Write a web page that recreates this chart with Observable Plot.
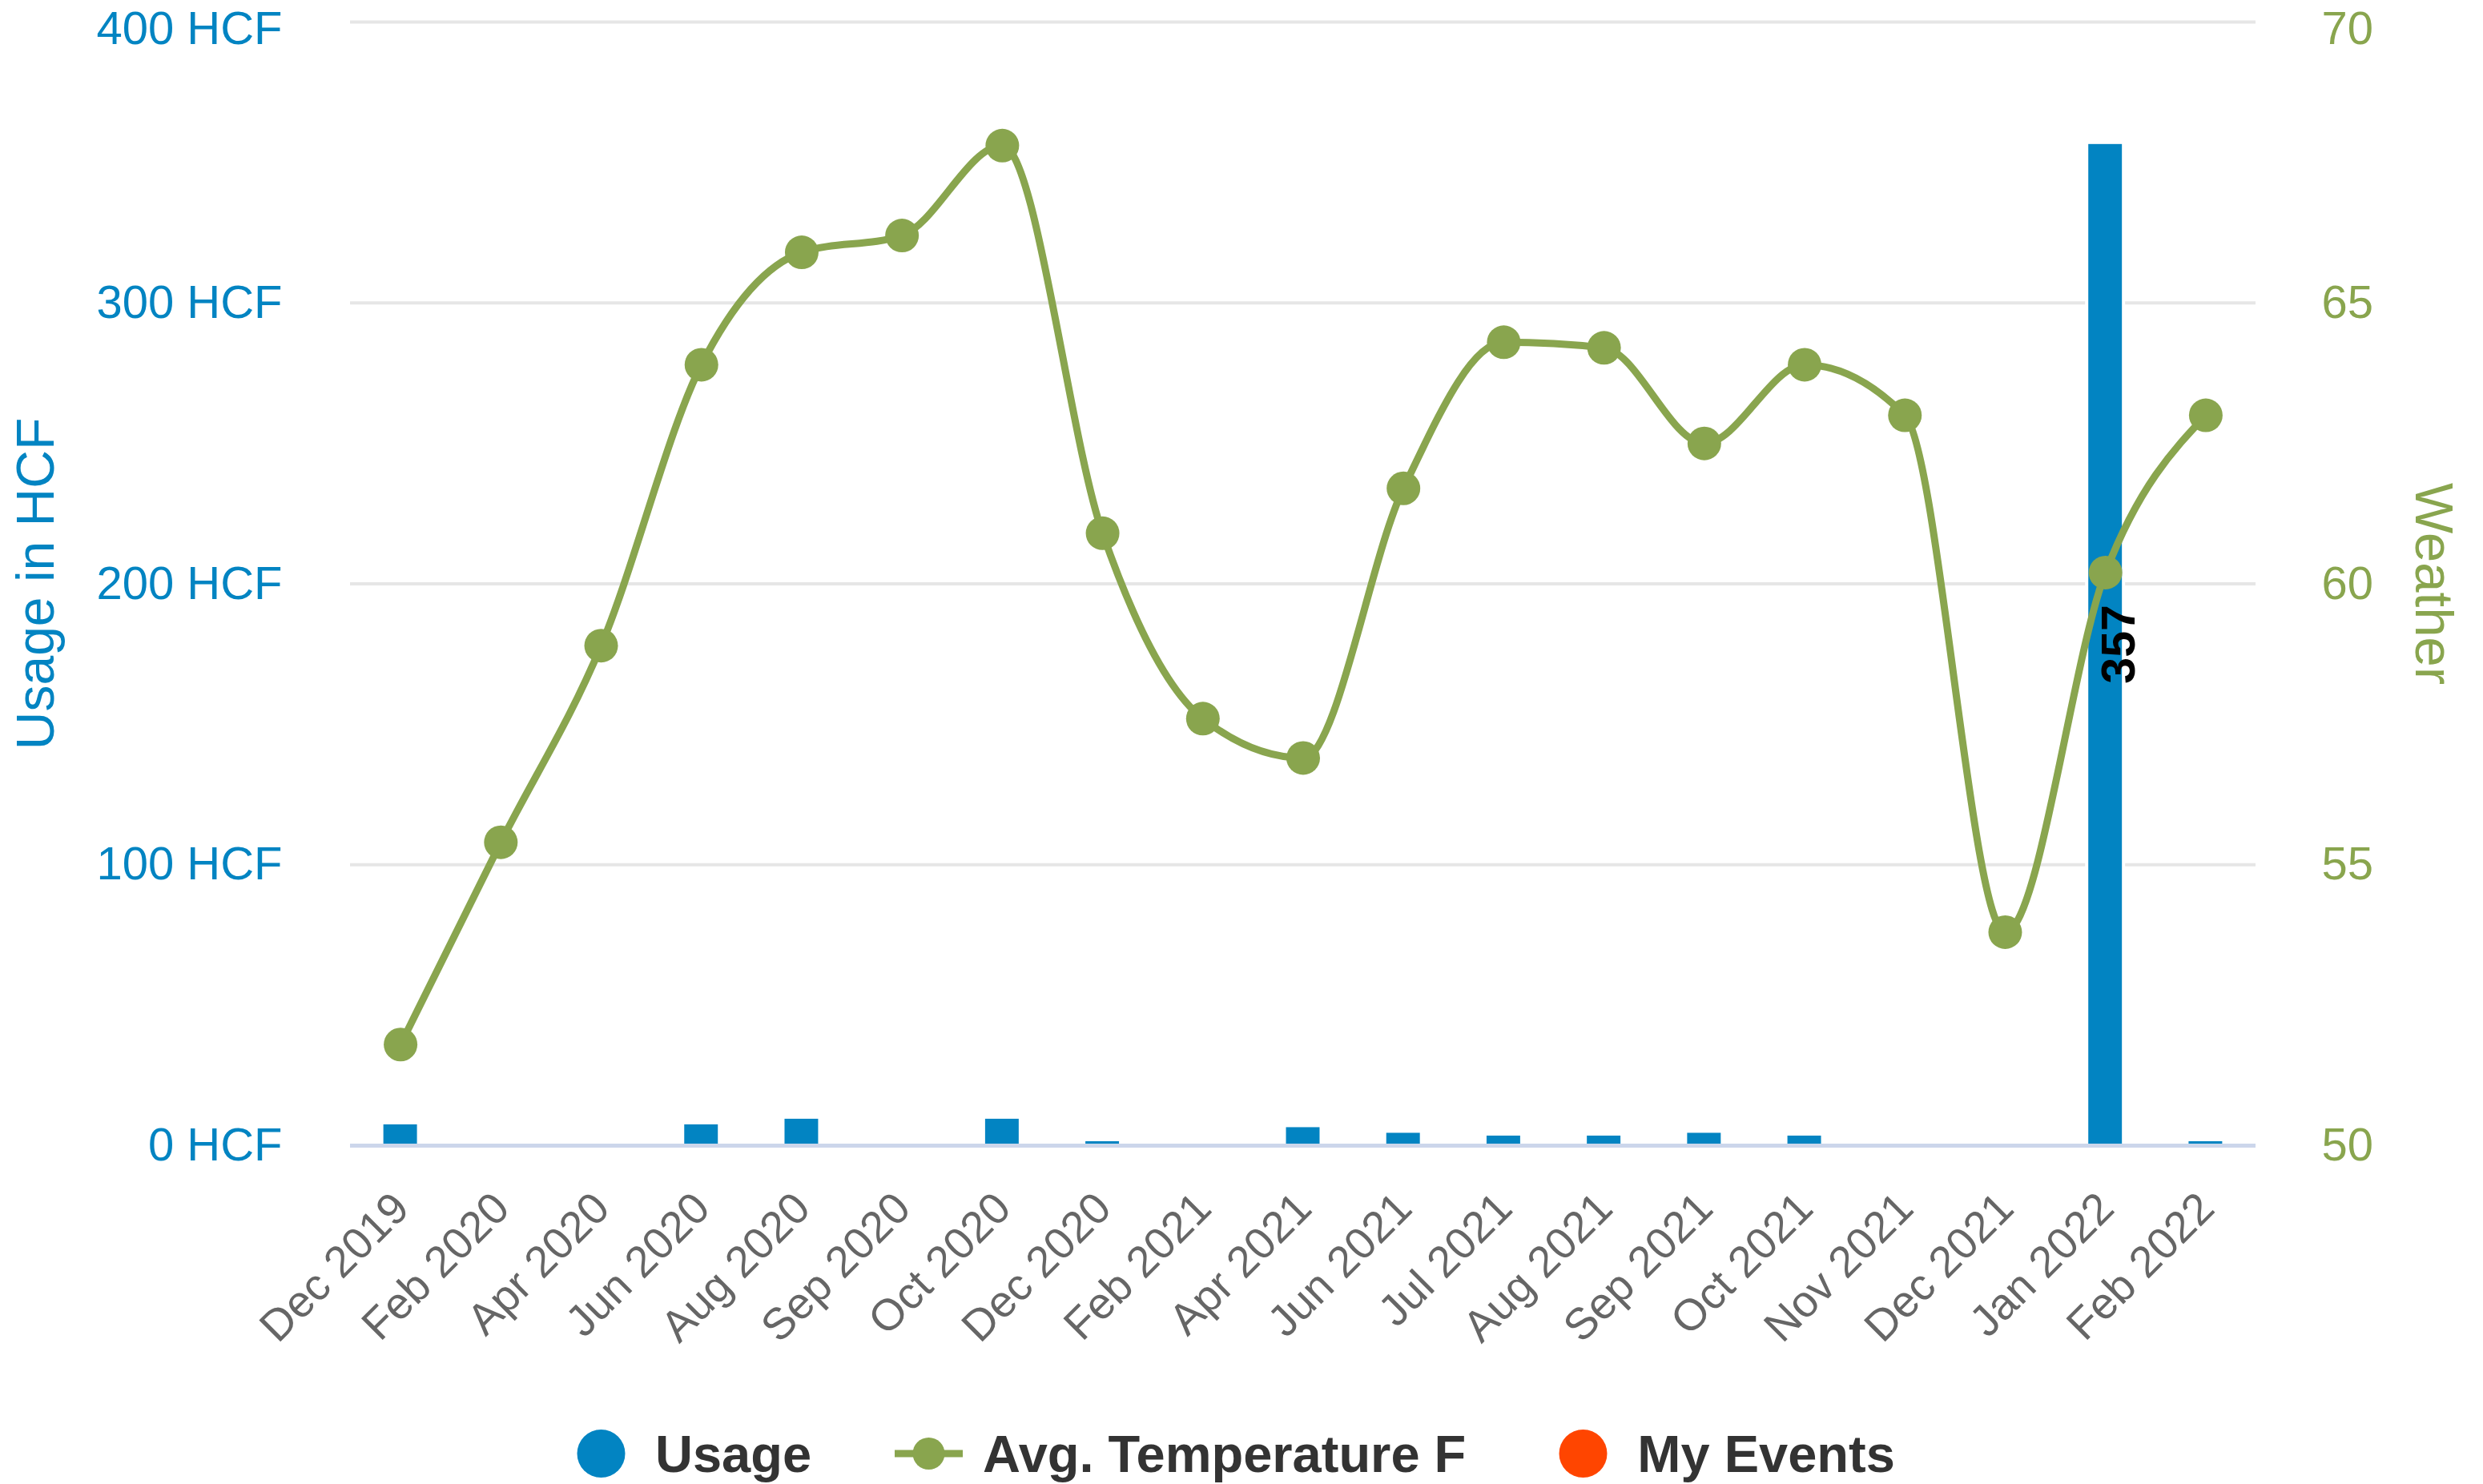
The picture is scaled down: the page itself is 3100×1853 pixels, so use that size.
<!DOCTYPE html>
<html>
<head>
<meta charset="utf-8">
<script src="https://cdn.jsdelivr.net/npm/d3@7"></script>
<script src="https://cdn.jsdelivr.net/npm/@observablehq/plot@0.6"></script>
<style>
  html, body { margin: 0; padding: 0; background: #fff; }
  body { width: 3100px; height: 1853px; overflow: hidden; font-family: "Liberation Sans", Arial, sans-serif; }
  #chart { position: relative; width: 3100px; height: 1740px; }
  #chart svg { position: absolute; left: 0; top: 0; }
  #legend { display: flex; align-items: center; height: 80px; margin-top: 35px; padding-left: 708px;
            font-weight: bold; font-size: 65px; color: #333333; white-space: nowrap; }
  .item { display: flex; align-items: center; margin-right: 104px; }
  .item svg { margin-right: 25px; display: block; }
</style>
</head>
<body>
<div id="chart"></div>
<div id="legend"></div>
<script>
// ---- data ----
const months = ["Dec 2019", "Feb 2020", "Apr 2020", "Jun 2020", "Aug 2020", "Sep 2020", "Oct 2020",
  "Dec 2020", "Feb 2021", "Apr 2021", "Jun 2021", "Jul 2021", "Aug 2021", "Sep 2021", "Oct 2021",
  "Nov 2021", "Dec 2021", "Jan 2022", "Feb 2022"];
const usage = [8, 0, 0, 8, 10, 0, 10, 2, 0, 7, 5, 4, 4, 5, 4, 0, 0, 357, 2];
const temperature = [51.8, 55.4, 58.9, 63.9, 65.9, 66.2, 67.8, 60.9, 57.6, 56.9, 61.7, 64.3, 64.2,
  62.5, 63.9, 63.0, 53.8, 60.2, 63.0];
const usageTicks = [0, 100, 200, 300, 400];
const tempTicks = [50, 55, 60, 65, 70];
const legendNames = ["Usage", "Avg. Temperature F", "My Events"];

// ---- styles ----
const BLUE = "#0284c2", GREEN = "#89a54e", ORANGE = "#ff4500";

const data = months.map((m, i) => ({month: m, usage: usage[i], temp: temperature[i]}));

const common = {
  width: 3100, height: 1740,
  marginTop: 27, marginRight: 284, marginBottom: 310, marginLeft: 437,
  x: {type: "band", domain: months, paddingInner: 0.633, paddingOuter: 0.3165, round: false, axis: null},
  style: {background: "transparent", fontFamily: '"Liberation Sans", Arial, sans-serif', overflow: "visible"}
};

const topUsage = usageTicks[usageTicks.length - 1];
const topTemp = tempTicks[tempTicks.length - 1];

const plotA = Plot.plot({
  ...common,
  y: {domain: [0, 400], axis: null},
  marks: [
    Plot.gridY(usageTicks.slice(1), {stroke: "#e6e6e6", strokeOpacity: 1, strokeWidth: 4}),
    Plot.barY(data, {x: "month", y: "usage", fill: BLUE, stroke: "#ffffff", strokeWidth: 4}),
    Plot.ruleY([0], {stroke: "#ccd6eb", strokeWidth: 5}),
    Plot.text(data.filter(d => d.usage >= 100), {
      x: "month", y: d => d.usage / 2, text: d => String(d.usage),
      rotate: -90, dx: 17, fontSize: 59, fontWeight: "bold", fill: "#000000"
    }),
    Plot.axisY(usageTicks.filter(t => t !== topUsage), {tickSize: 0, tickPadding: 85, tickFormat: d => `${d} HCF`,
      color: BLUE, fontSize: 58, label: null}),
    Plot.axisY([topUsage], {tickSize: 0, tickPadding: 85, tickFormat: d => `${d} HCF`, dy: 9,
      color: BLUE, fontSize: 58, label: null}),
    Plot.axisX({tickSize: 0, tickRotate: -45, tickPadding: 69, dx: 1, textAnchor: "end", lineAnchor: "middle",
      color: "#666666", fontSize: 55, label: null}),
    Plot.text(["Usage in HCF"], {frameAnchor: "left", textAnchor: "middle", rotate: -90, dx: -392, fill: BLUE, fontSize: 66})
  ]
});

const plotB = Plot.plot({
  ...common,
  y: {domain: [50, 70], axis: null},
  marks: [
    Plot.line(data, {x: "month", y: "temp", stroke: GREEN, strokeWidth: 9, curve: "monotone-x"}),
    Plot.dot(data, {x: "month", y: "temp", r: 21, fill: GREEN}),
    Plot.axisY(tempTicks.filter(t => t !== topTemp), {anchor: "right", tickSize: 0, tickPadding: 82,
      tickFormat: d => String(d), color: GREEN, fontSize: 58, label: null}),
    Plot.axisY([topTemp], {anchor: "right", tickSize: 0, tickPadding: 82, dy: 9,
      tickFormat: d => String(d), color: GREEN, fontSize: 58, label: null}),
    Plot.text(["Weather"], {frameAnchor: "right", textAnchor: "middle", rotate: 90, dx: 221, fill: GREEN, fontSize: 67})
  ]
});

const chart = document.getElementById("chart");
chart.appendChild(plotA);
chart.appendChild(plotB);

// ---- legend ----
const legend = document.getElementById("legend");
const legendColors = [BLUE, GREEN, ORANGE];
const legendKinds = ["dot", "line", "dot"];
legendNames.forEach((name, i) => {
  const item = document.createElement("div");
  item.className = "item";
  const c = legendColors[i];
  const sym = legendKinds[i] === "line"
    ? `<svg width="85" height="64"><line x1="0" x2="85" y1="32" y2="32" stroke="${c}" stroke-width="9"/><circle cx="42.5" cy="32" r="20" fill="${c}"/></svg>`
    : `<svg width="85" height="64"><circle cx="42.5" cy="32" r="30" fill="${c}"/></svg>`;
  item.innerHTML = sym + `<span>${name}</span>`;
  legend.appendChild(item);
});
</script>
</body>
</html>
